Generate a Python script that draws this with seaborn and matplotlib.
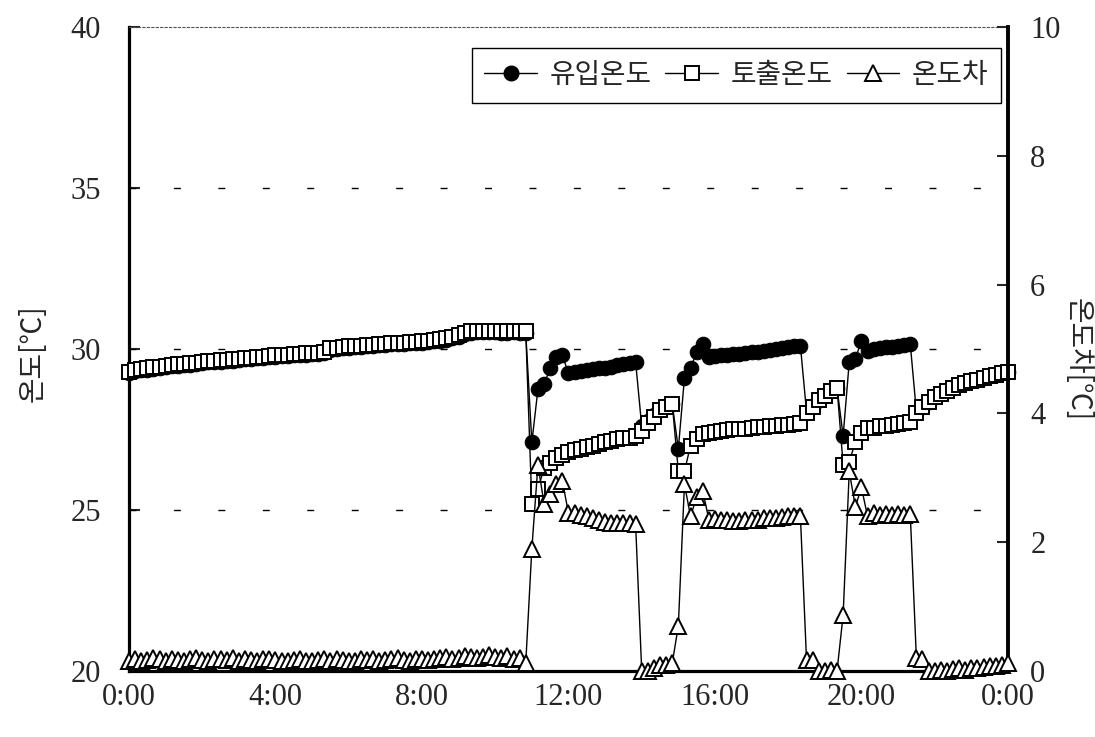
import numpy as np
import pandas as pd
import matplotlib
matplotlib.use("Agg")
import matplotlib.pyplot as plt
from matplotlib.lines import Line2D
from matplotlib.font_manager import FontProperties
import seaborn as sns

# 10-minute samples over one day (0:00 .. 24:00)
hours = np.arange(145) / 6.0

# 토출온도 (outlet temperature, °C), one row per hour
outlet_temp = [
    29.30, 29.35, 29.38, 29.40, 29.43, 29.45,
    29.47, 29.50, 29.52, 29.53, 29.55, 29.57,
    29.60, 29.62, 29.63, 29.65, 29.67, 29.68,
    29.70, 29.72, 29.73, 29.75, 29.76, 29.78,
    29.80, 29.81, 29.82, 29.84, 29.85, 29.86,
    29.87, 29.88, 29.90, 30.02, 30.04, 30.06,
    30.08, 30.09, 30.10, 30.12, 30.13, 30.15,
    30.16, 30.18, 30.19, 30.20, 30.21, 30.22,
    30.24, 30.26, 30.28, 30.30, 30.33, 30.38,
    30.42, 30.50, 30.55, 30.56, 30.56, 30.56,
    30.56, 30.55, 30.55, 30.56, 30.55, 30.55,
    25.20, 25.65, 26.30, 26.45, 26.60, 26.70,
    26.80, 26.85, 26.90, 26.95, 27.00, 27.05,
    27.10, 27.15, 27.20, 27.22, 27.25, 27.30,
    27.45, 27.70, 27.90, 28.10, 28.20, 28.30,
    26.20, 26.20, 27.00, 27.20, 27.35, 27.40,
    27.42, 27.45, 27.47, 27.50, 27.52, 27.53,
    27.55, 27.57, 27.58, 27.60, 27.62, 27.63,
    27.65, 27.68, 27.70, 28.00, 28.20, 28.40,
    28.55, 28.70, 28.80, 26.40, 26.50, 27.10,
    27.40, 27.55, 27.55, 27.60, 27.62, 27.65,
    27.67, 27.70, 27.72, 28.00, 28.20, 28.35,
    28.50, 28.60, 28.70, 28.80, 28.88, 28.95,
    29.00, 29.05, 29.10, 29.15, 29.20, 29.25,
    29.30,
]

# 유입온도 (inlet temperature, °C)
inlet_temp = [
    29.26, 29.31, 29.34, 29.36, 29.39, 29.41,
    29.43, 29.46, 29.48, 29.49, 29.51, 29.53,
    29.56, 29.58, 29.59, 29.61, 29.63, 29.64,
    29.66, 29.68, 29.69, 29.71, 29.72, 29.74,
    29.76, 29.77, 29.78, 29.80, 29.81, 29.82,
    29.83, 29.84, 29.86, 29.98, 30.00, 30.02,
    30.04, 30.05, 30.06, 30.08, 30.09, 30.11,
    30.12, 30.14, 30.15, 30.16, 30.17, 30.18,
    30.20, 30.22, 30.24, 30.26, 30.29, 30.34,
    30.38, 30.46, 30.51, 30.52, 30.52, 30.52,
    30.52, 30.51, 30.51, 30.52, 30.51, 30.51,
    27.10, 28.75, 28.90, 29.40, 29.75, 29.80,
    29.25, 29.30, 29.32, 29.35, 29.38, 29.40,
    29.42, 29.45, 29.50, 29.52, 29.55, 29.60,
    27.60, 27.75, 27.95, 28.10, 28.20, 28.30,
    26.90, 29.10, 29.40, 29.90, 30.15, 29.75,
    29.78, 29.80, 29.82, 29.83, 29.85, 29.88,
    29.90, 29.92, 29.95, 29.97, 30.00, 30.02,
    30.05, 30.08, 30.10, 28.05, 28.20, 28.40,
    28.55, 28.70, 28.78, 27.30, 29.60, 29.70,
    30.25, 29.95, 30.00, 30.02, 30.05, 30.07,
    30.10, 30.12, 30.15, 28.05, 28.20, 28.35,
    28.50, 28.60, 28.70, 28.80, 28.88, 28.95,
    29.00, 29.05, 29.10, 29.15, 29.20, 29.25,
    29.30,
]

# 온도차 (temperature difference, °C) on the secondary axis
temp_diff = [
    0.15, 0.18, 0.16, 0.17, 0.20, 0.18,
    0.16, 0.19, 0.17, 0.15, 0.18, 0.20,
    0.17, 0.16, 0.19, 0.18, 0.17, 0.20,
    0.16, 0.18, 0.17, 0.15, 0.18, 0.19,
    0.17, 0.16, 0.15, 0.17, 0.18, 0.16,
    0.15, 0.17, 0.19, 0.16, 0.18, 0.17,
    0.15, 0.16, 0.18, 0.17, 0.19, 0.16,
    0.17, 0.18, 0.20, 0.17, 0.16, 0.18,
    0.19, 0.17, 0.18, 0.20, 0.22, 0.19,
    0.20, 0.24, 0.21, 0.20, 0.22, 0.25,
    0.21, 0.20, 0.23, 0.19, 0.20, 0.12,
    1.90, 3.20, 2.60, 2.75, 2.90, 2.95,
    2.45, 2.45, 2.42, 2.40, 2.38, 2.35,
    2.32, 2.30, 2.30, 2.30, 2.30, 2.28,
    0.00, 0.00, 0.05, 0.10, 0.10, 0.12,
    0.70, 2.90, 2.40, 2.70, 2.80, 2.35,
    2.36, 2.35, 2.35, 2.33, 2.33, 2.35,
    2.35, 2.35, 2.37, 2.37, 2.38, 2.39,
    2.40, 2.40, 2.40, 0.17, 0.17, 0.00,
    0.00, 0.02, 0.00, 0.87, 3.10, 2.55,
    2.85, 2.40, 2.45, 2.42, 2.43, 2.42,
    2.43, 2.42, 2.43, 0.20, 0.18, 0.00,
    0.00, 0.02, 0.00, 0.03, 0.05, 0.02,
    0.04, 0.05, 0.06, 0.08, 0.07, 0.10,
    0.12,
]

series_labels = ["유입온도", "토출온도", "온도차"]
x_tick_hours = [0, 4, 8, 12, 16, 20, 24]
x_tick_labels = ["0:00", "4:00", "8:00", "12:00", "16:00", "20:00", "0:00"]
left_ticks = [20, 25, 30, 35, 40]
right_ticks = [0, 2, 4, 6, 8, 10]

df = pd.DataFrame({"t": hours, "inlet": inlet_temp,
                   "outlet": outlet_temp, "diff": temp_diff})

sns.set_style("white")
plt.rcParams["font.family"] = ["Liberation Serif", "Noto Sans CJK KR", "DejaVu Sans"]
kr = FontProperties(family=["Noto Sans CJK KR", "DejaVu Sans"])

fig = plt.figure(figsize=(10.95, 7.37), dpi=100)
ax = fig.add_axes([0.1178, 0.0896, 0.8027, 0.8738])
ax2 = ax.twinx()

circle_style = dict(marker="o", markersize=10.5, markerfacecolor="black",
                    markeredgecolor="black")
square_style = dict(marker="s", markersize=10.5, markerfacecolor="white",
                    markeredgecolor="black", markeredgewidth=1.4)
triangle_style = dict(marker="^", markersize=11, markerfacecolor="white",
                      markeredgecolor="black", markeredgewidth=1.4)

common = dict(color="black", lw=1.0, clip_on=False, legend=False, errorbar=None)
sns.lineplot(data=df, x="t", y="inlet", ax=ax, zorder=3, **circle_style, **common)
sns.lineplot(data=df, x="t", y="outlet", ax=ax, zorder=4, **square_style, **common)
sns.lineplot(data=df, x="t", y="diff", ax=ax2, zorder=5, **triangle_style, **common)

ax.set_xlim(0, 24)
ax.set_ylim(20, 40)
ax2.set_ylim(0, 10)
ax.set_xticks(x_tick_hours)
ax.set_xticklabels(x_tick_labels)
ax.set_yticks(left_ticks)
ax2.set_yticks(right_ticks)
ax.set_xlabel("")
ax.set_ylabel("")
ax2.set_ylabel("")

ax.tick_params(axis="x", direction="in", length=8, width=1.5, labelsize=22, pad=9)
ax.tick_params(axis="y", direction="in", length=8, width=1.5, labelsize=22, pad=20)
ax2.tick_params(axis="y", direction="in", length=8, width=1.5, labelsize=22, pad=16)

ax.grid(False)
ax2.grid(False)
for yv in left_ticks[1:-1]:
    ax.axhline(yv, color="black", lw=1.0, linestyle=(0, (5, 27)), zorder=1)

for name in ["left", "bottom"]:
    ax.spines[name].set_linewidth(2.3)
    ax.spines[name].set_color("black")
ax.spines["right"].set_visible(False)
ax.spines["top"].set_linewidth(0.8)
ax.spines["top"].set_color("#555555")
ax.spines["top"].set_linestyle((0, (2, 2)))
for name in ["left", "bottom", "top"]:
    ax2.spines[name].set_visible(False)
ax2.spines["right"].set_linewidth(2.8)
ax2.spines["right"].set_color("black")

fig.text(33 / 1095, 1 - 353 / 737, "온도[℃]", rotation=90, ha="center", va="center",
         fontproperties=kr, fontsize=20)
fig.text(1078 / 1095, 1 - 360 / 737, "온도차[℃]", rotation=270, ha="center", va="center",
         fontproperties=kr, fontsize=20)

handles = [
    Line2D([], [], color="black", lw=1.0, **circle_style),
    Line2D([], [], color="black", lw=1.0, **square_style),
    Line2D([], [], color="black", lw=1.0, **triangle_style),
]
leg = ax2.legend(handles, series_labels, loc="upper right", bbox_to_anchor=(0.992, 0.968),
                 ncol=3, frameon=True, fancybox=False, edgecolor="black", framealpha=1,
                 prop=FontProperties(family=["Noto Sans CJK KR", "DejaVu Sans"], size=20),
                 handlelength=1.9, handletextpad=0.45, columnspacing=0.5,
                 borderpad=0.45, borderaxespad=0)
leg.get_frame().set_linewidth(1.0)

fig.savefig("out.png", dpi=100)
